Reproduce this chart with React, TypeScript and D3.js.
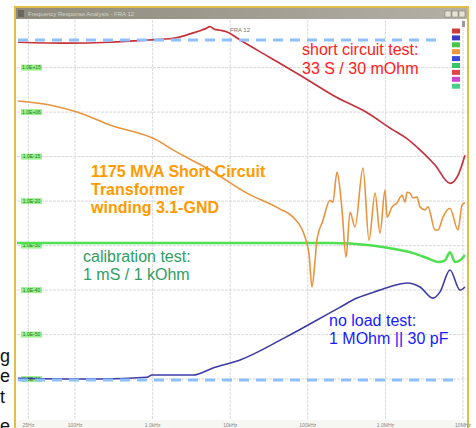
import * as d3 from "d3";

const W = 476;
const H = 428;

// frequency axis (Hz), log decades
const freqTicks = [25, 100, 1e3, 1e4, 1e5, 1e6, 1e7];
const freqLabels = ["25Hz", "100Hz", "1.0kHz", "10kHz", "100kHz", "1.0MHz", "10MHz"];

// vertical axis in grid divisions (0 = bottom reference)
const levelTicks = [0, 1, 2, 3, 4, 5, 6, 7];
const levelLabels = ["1.0E-60", "1.0E-50", "1.0E-40", "1.0E-30", "1.0E-20", "1.0E-15", "1.0E+06", "1.0E+15"];

// [frequency Hz, level div]
const shortCircuit: [number, number][] = [
  [18.4, 7.57], [79, 7.55], [282, 7.57], [873, 7.62], [1830, 7.66], [2600, 7.72],
  [3320, 7.78], [4100, 7.83], [4730, 7.87], [5490, 7.92], [6300, 7.86], [7390, 7.84],
  [9100, 7.8], [13400, 7.62], [31600, 7.24], [86700, 6.79], [231000, 6.34],
  [562000, 6.0], [1.25e6, 5.6], [1.84e6, 5.42], [2.79e6, 5.15], [4.36e6, 4.81],
  [6.8e6, 4.4], [8.62e6, 4.58], [1.06e7, 5.03],
];

const transformer: [number, number][] = [
  [18.4, 6.25], [47.6, 6.16], [106, 6.0], [282, 5.71], [1140, 5.37], [1830, 5.15],
  [5490, 4.7], [16400, 4.18], [43800, 3.82], [64500, 3.64], [92000, 3.19],
  [1.04e5, 2.79], [1.13e5, 2.07], [1.24e5, 2.67], [1.31e5, 3.12], [1.57e5, 3.57],
  [1.93e5, 4.02], [2.1e5, 3.97], [2.38e5, 4.65], [2.76e5, 3.8], [3.11e5, 2.74],
  [3.5e5, 3.75], [4.06e5, 3.42], [5.14e5, 4.74], [6.15e5, 3.12], [7.35e5, 4.18],
  [8.52e5, 3.28], [9.88e5, 4.25], [1.05e6, 3.64], [1.22e6, 3.87], [1.41e6, 3.96],
  [1.64e6, 4.13], [1.79e6, 3.98], [1.9e6, 4.2], [2.07e6, 4.18], [2.27e6, 4.07],
  [2.56e6, 4.09], [2.79e6, 3.87], [3.24e6, 3.8], [3.54e6, 3.87], [4.36e6, 3.35],
  [4.76e6, 3.35], [5.52e6, 3.64], [6.79e6, 3.84], [8.62e6, 3.35], [9.71e6, 3.91],
  [1.06e7, 3.96],
];

const calibration: [number, number][] = [
  [17, 3.06], [1.93e5, 3.06], [6.34e5, 3.01], [1.15e6, 2.94], [2.27e6, 2.83],
  [3.44e6, 2.72], [4.76e6, 2.63], [5.86e6, 2.67], [6.79e6, 2.85], [7.88e6, 2.63],
  [9.15e6, 2.67], [1.06e7, 2.79],
];

const noLoad: [number, number][] = [
  [18.4, 0.02], [210, 0.0], [847, 0.04], [982, 0.09], [1175, 0.09], [3320, 0.09],
  [6000, 0.25], [13400, 0.43], [49300, 0.92], [2.52e5, 1.6], [4.3e5, 1.82],
  [8.5e5, 2.0], [1.33e6, 2.11], [1.9e6, 2.16], [2.79e6, 2.07], [4.1e6, 1.82],
  [5.06e6, 1.96], [6.79e6, 2.45], [9.15e6, 2.0], [1.06e7, 2.07],
];

// dashed reference lines: level, start f, end f
const refLines: [number, number, number][] = [
  [7.62, 18.4, 4.9e6],
  [-0.02, 18.4, 8.6e6],
];

const legendColors = ["#d03a3a", "#3a3ac8", "#44c844", "#f0963c", "#3a4ae0", "#36c86a", "#e04646", "#d046d0", "#46d08a"];

const leftFragments = [
  { t: "g", y: 362 },
  { t: "e", y: 382 },
  { t: "t", y: 403 },
  { t: "e", y: 432 },
];

const x = d3.scaleLog().domain([18.4, 1.093e7]).range([18, 466]);
const y = d3.scaleLinear().domain([-0.92, 8.07]).range([420, 20]);

const line = d3
  .line<[number, number]>()
  .x((d) => x(d[0]))
  .y((d) => y(d[1]))
  .curve(d3.curveMonotoneX);

const font = "'Liberation Sans', Arial, sans-serif";

export default function App() {
  return (
    <svg
      width={W}
      height={H}
      style={{ position: "absolute", left: 0, top: 0, background: "#fff" }}
      fontFamily={font}
    >
      <defs>
        <linearGradient id="tb" x1="0" x2="1" y1="0" y2="0">
          <stop offset="0" stopColor="#8e8a7e" />
          <stop offset="0.4" stopColor="#9c988c" />
          <stop offset="1" stopColor="#b4b0a6" />
        </linearGradient>
        <clipPath id="plot">
          <rect x={17} y={20} width={449} height={400} />
        </clipPath>
      </defs>

      {/* cut-off slide text on the left */}
      {leftFragments.map((f, i) => (
        <text key={i} x={0} y={f.y} fontSize={18} fill="#111">
          {f.t}
        </text>
      ))}

      {/* window frame */}
      <rect x={15} y={7} width={453} height={430} fill="#fff" stroke="#e2bd48" strokeWidth={2} />
      <rect x={16} y={8} width={451} height={11} fill="url(#tb)" />
      <rect x={18} y={10} width={6} height={7} fill="#6a675e" />
      <text x={28} y={16} fontSize={6} fill="#d8d4c4">
        Frequency Response Analysis - FRA 12
      </text>
      {[445, 452, 459].map((bx, i) => (
        <rect key={i} x={bx} y={11} width={6} height={6} fill="#e6e2d6" stroke="#7a766a" strokeWidth={0.5} />
      ))}

      {/* grid */}
      <g stroke="#d9d9d9" strokeWidth={1} strokeDasharray="3,1">
        {freqTicks.map((f, i) => (
          <line key={i} x1={x(f)} x2={x(f)} y1={20} y2={420} />
        ))}
        {levelTicks.map((v, i) => (
          <line key={i} x1={17} x2={466} y1={y(v)} y2={y(v)} />
        ))}
      </g>

      {/* y labels */}
      {levelTicks.map((v, i) => (
        <g key={i}>
          <rect x={21} y={y(v) - 3} width={21} height={6} fill="#9cf08c" />
          <text x={31.5} y={y(v) + 1.8} fontSize={5} textAnchor="middle" fill="#1d7a1d">
            {levelLabels[i]}
          </text>
        </g>
      ))}

      <text x={230} y={32} fontSize={6} fill="#777">
        FRA 12
      </text>

      {/* curves */}
      <g clipPath="url(#plot)" fill="none" strokeLinejoin="round">
        <path d={line(calibration) ?? ""} stroke="#4ee04e" strokeWidth={2.5} />
        <path d={line(noLoad) ?? ""} stroke="#3c3ca6" strokeWidth={1.6} />
        <path d={line(transformer) ?? ""} stroke="#e8943e" strokeWidth={1.6} />
        <path d={line(shortCircuit) ?? ""} stroke="#c4323c" strokeWidth={1.7} />
        {refLines.map(([v, f0, f1], i) => (
          <line
            key={i}
            x1={x(f0)}
            x2={x(f1)}
            y1={y(v)}
            y2={y(v)}
            stroke="#8ec0ff"
            strokeWidth={3}
            strokeDasharray="10,7"
          />
        ))}
      </g>

      {/* annotations */}
      <g fontSize={16}>
        <text x={302} y={55} fill="#ff2020">short circuit test:</text>
        <text x={302} y={74} fill="#ff2020">33 S / 30 mOhm</text>
        <g fill="#ff9a00" fontWeight="bold">
          <text x={91} y={177}>1175 MVA Short Circuit</text>
          <text x={91} y={195}>Transformer</text>
          <text x={91} y={213}>winding 3.1-GND</text>
        </g>
        <text x={83} y={262} fill="#2e9e62">calibration test:</text>
        <text x={83} y={280} fill="#2e9e62">1 mS / 1 kOhm</text>
        <text x={329} y={326} fill="#1a1aff">no load test:</text>
        <text x={329} y={344} fill="#1a1aff">1 MOhm || 30 pF</text>
      </g>

      {/* legend chips */}
      {legendColors.map((c, i) => (
        <rect key={i} x={452} y={28.5 + i * 6.9} width={8} height={5} fill={c} />
      ))}
      <rect x={462} y={21} width={3} height={6} fill="#9a9a9a" />

      {/* x labels */}
      <rect x={16} y={420} width={451} height={9} fill="#f6f6f2" />
      {freqTicks.map((f, i) => (
        <text key={i} x={x(f)} y={427} fontSize={5} textAnchor="middle" fill="#888">
          {freqLabels[i]}
        </text>
      ))}
    </svg>
  );
}
